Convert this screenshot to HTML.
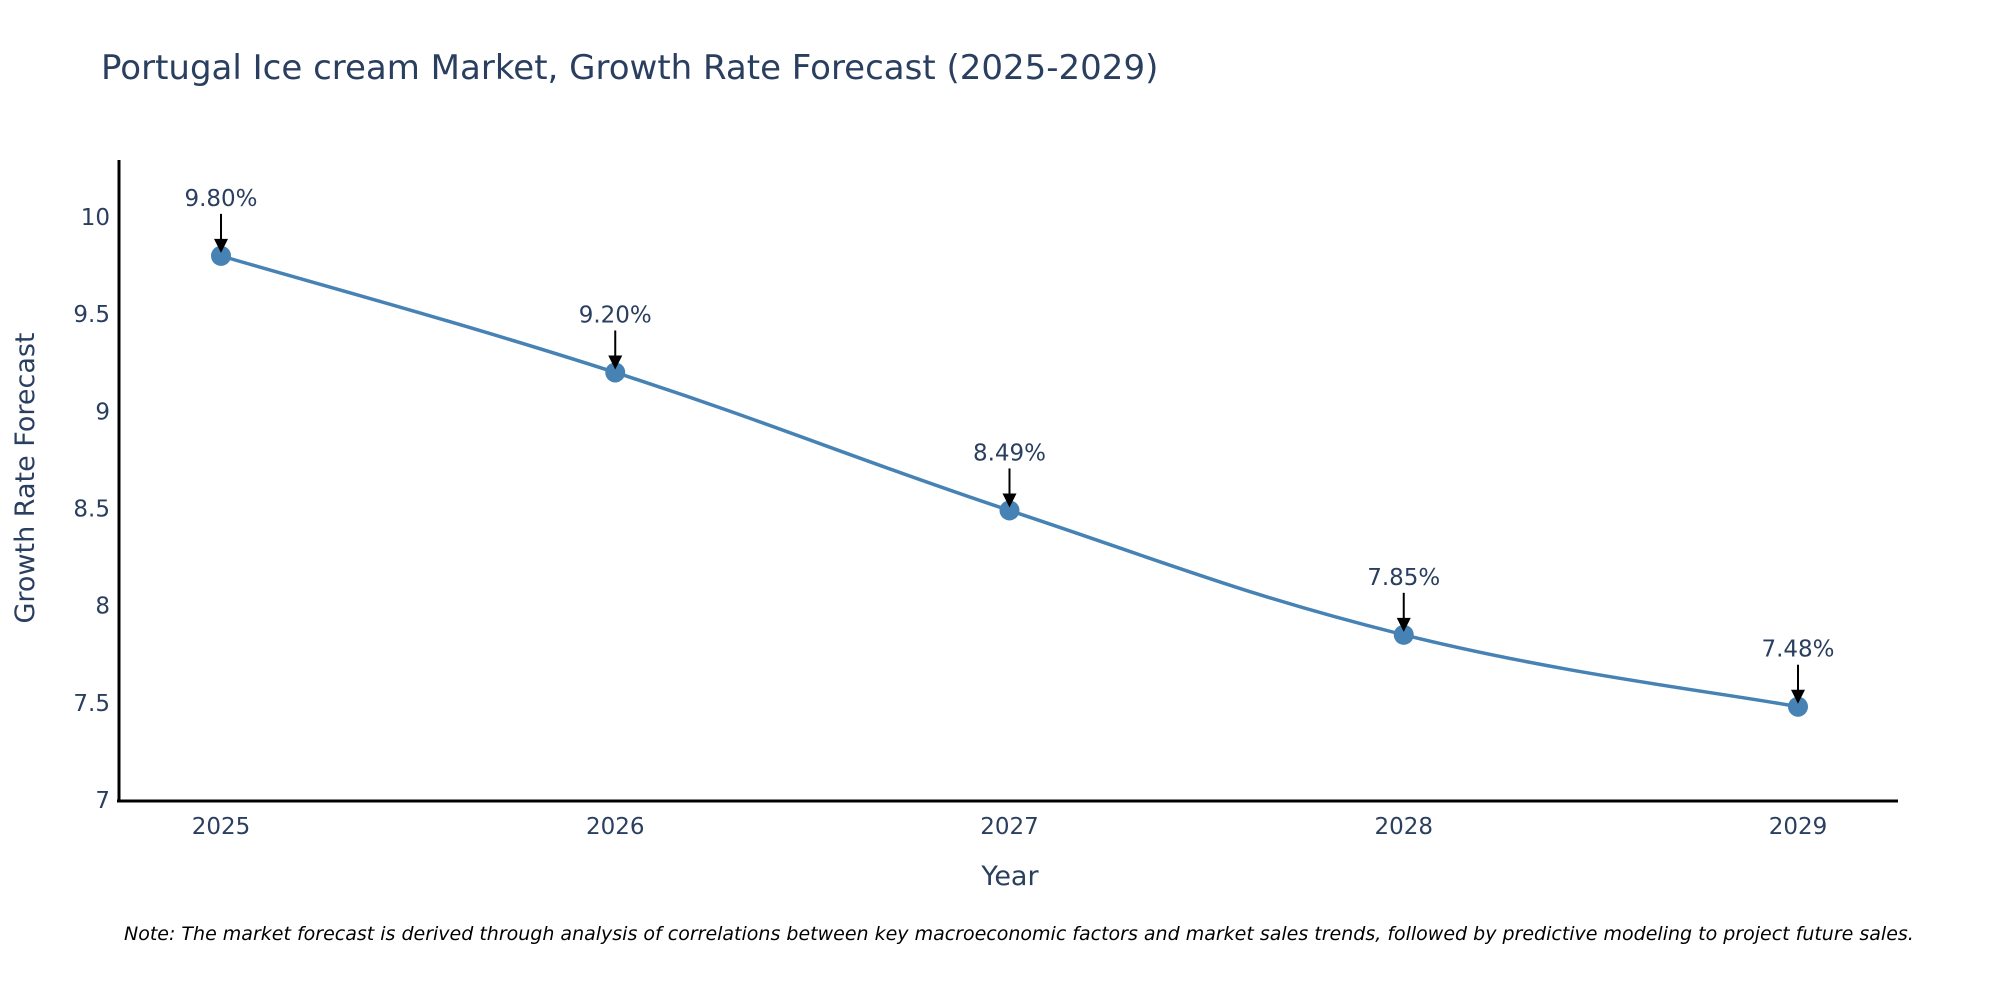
<!DOCTYPE html>
<html><head><meta charset="utf-8"><style>
html,body{margin:0;padding:0;background:#fff;}
svg{display:block;font-family:"DejaVu Sans","Liberation Sans",sans-serif;}
</style></head><body>
<svg id="chart" width="2000" height="1000" viewBox="0 0 2000 1000">
<text x="101" y="79" font-size="34" fill="#2a3f5f">Portugal Ice cream Market, Growth Rate Forecast (2025-2029)</text>
<g id="yticks"></g>
<g id="xticks"></g>
<line x1="119" y1="160" x2="119" y2="802" stroke="#000" stroke-width="3"/>
<line x1="117" y1="801" x2="1898" y2="801" stroke="#000" stroke-width="3"/>
<text transform="translate(34,478) rotate(-90)" text-anchor="middle" font-size="27" fill="#2a3f5f">Growth Rate Forecast</text>
<text x="1010" y="885" text-anchor="middle" font-size="27" fill="#2a3f5f">Year</text>
<path id="line" fill="none" stroke="#4682b4" stroke-width="3.5"/>
<g id="marks"></g>
<text x="124" y="940" font-size="19" font-style="italic" fill="#000">Note: The market forecast is derived through analysis of correlations between key macroeconomic factors and market sales trends, followed by predictive modeling to project future sales.</text>
</svg>
<script>
const years = ["2025","2026","2027","2028","2029"];
const growth = [9.80, 9.20, 8.49, 7.85, 7.48];
const labels = ["9.80%","9.20%","8.49%","7.85%","7.48%"];
const yTicks = [7, 7.5, 8, 8.5, 9, 9.5, 10];
const yTickLabels = ["7","7.5","8","8.5","9","9.5","10"];

const NS="http://www.w3.org/2000/svg";
function xs(i){return 221 + i*(1798-221)/(years.length-1);}
function ys(v){return 800 - (v-7)*(800-217)/3;}
function mk(tag,attrs,parent){const e=document.createElementNS(NS,tag);for(const k in attrs)e.setAttribute(k,attrs[k]);parent.appendChild(e);return e;}

const yg=document.getElementById('yticks');
yTicks.forEach((t,i)=>{
  const e=mk('text',{x:110,y:ys(t)+8,'text-anchor':'end','font-size':23,fill:'#2a3f5f'},yg);
  e.textContent=yTickLabels[i];
  
  
});
const xg=document.getElementById('xticks');
years.forEach((y,i)=>{
  const e=mk('text',{x:xs(i),y:834,'text-anchor':'middle','font-size':23,fill:'#2a3f5f'},xg);
  e.textContent=y;
  
  
});

const pts=growth.map((v,i)=>[xs(i),ys(v)]);
let d='M'+pts[0][0]+','+pts[0][1];
for(let i=0;i<pts.length-1;i++){
  const p0=pts[Math.max(0,i-1)],p1=pts[i],p2=pts[i+1],p3=pts[Math.min(pts.length-1,i+2)];
  const t=0.2;
  const c1=[p1[0]+(p2[0]-p0[0])*t,p1[1]+(p2[1]-p0[1])*t];
  const c2=[p2[0]-(p3[0]-p1[0])*t,p2[1]-(p3[1]-p1[1])*t];
  d+=' C'+c1+' '+c2+' '+p2;
}
document.getElementById('line').setAttribute('d',d);

const mg=document.getElementById('marks');
pts.forEach((p,i)=>{
  const c=mk('circle',{cx:p[0],cy:p[1],r:10,fill:'#4682b4'},mg);
  
  
  const l=mk('line',{x1:p[0],y1:p[1]-42,x2:p[0],y2:p[1]-14,stroke:'#000','stroke-width':2},mg);
  
  
  const a=mk('polygon',{points:(p[0]-7)+','+(p[1]-17)+' '+(p[0]+7)+','+(p[1]-17)+' '+p[0]+','+(p[1]-3),fill:'#000'},mg);
  
  
  const t=mk('text',{x:p[0],y:p[1]-50,'text-anchor':'middle','font-size':23,fill:'#2a3f5f'},mg);
  t.textContent=labels[i];
  
  
});
</script>
</body></html>
